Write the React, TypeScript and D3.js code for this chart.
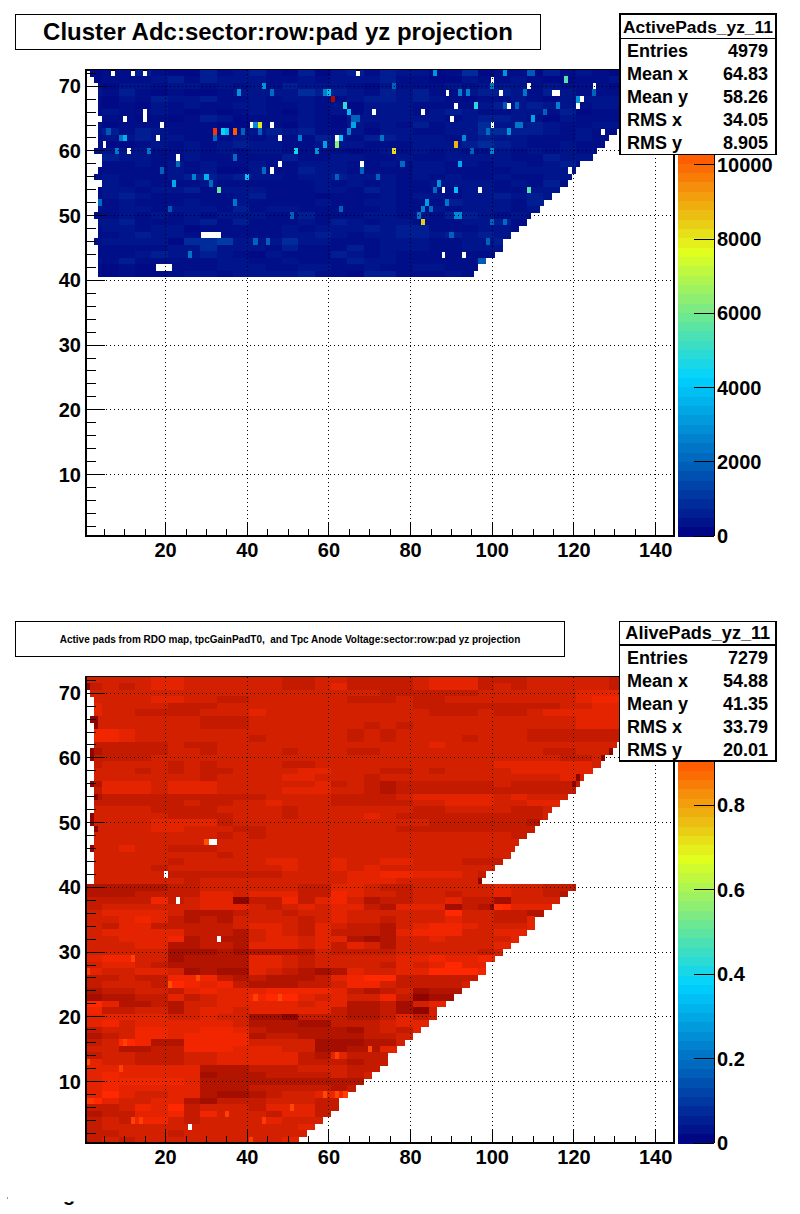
import React from "react";
import * as d3 from "d3";

const FONT = "'Liberation Sans', Arial, sans-serif";

// ---- data: each digit covers 4 pads (pads 1-4, 5-8, ...). Rows listed from 72 down.
const activeRows = [
  "233532253453252453544236233253432322", "233345354443343444533224334322334422",
  "324434434343544432433343444343332232", "435323223444465543545334554354333243",
  "324354453343443345545432334324444444", "323243433443343424443333454544344233",
  "343343232343243424443454334435233343", "333232354233343244444434554324333444",
  "423333332243243243435344644543344432", "453543331345453342443344665543433332",
  "344544333434335435544434544333433332", "322343434544334443334445654334332200",
  "344433434344333323434343343434333200", "554433433333533443343344443354432000",
  "333434343343344433434434344345330000", "333334342243354433334433334444350000",
  "343334554544344544434343343344440000", "343433343333334343433444434353300000",
  "344344534443334435433334433444000000", "345433333453332333434434454544000000",
  "534333433433334334433354443550000000", "434434443534433333433434443440000000",
  "334343434443353334434355434300000000", "445333453533343543443334453440000000",
  "344344233333434445455333443430000000", "334544323333445434455454545300000000",
  "344442667444644333444334454300000000", "333334464443533353444334444000000000",
  "333454454324333543433333333000000000", "435333334433433354433333334000000000",
  "323223334443344334334433330000000000", "323223443444453325533343350000000000",
];
const activeRowNumbers = d3.range(72, 40, -1);
const activeFirstPad = [2, 3, 4, 4, 4, 4, 4, 5, 4, 4, 4, 4, 3, 5, 5, 4, 3, 5, 4, 4, 4, 4, 3, 4, 4, 4, 3, 4, 4, 4, 4, 4];
const activeLastPad = [144, 144, 142, 140, 138, 136, 134, 134, 132, 130, 128, 127, 125, 124, 121, 120, 119, 118, 116, 114, 112, 111, 109, 108, 106, 104, 102, 102, 100, 98, 96, 95];
const activeLevels = [150, 150, 200, 280, 400, 620, 900, 1200];
// row, pad, adc (0 = empty pad)
const activeSpecial: number[][] = [
  [72,7,0],[72,12,0],[72,15,0],[72,67,0],[70,44,3000],[69,38,3000],[69,60,3800],[69,59,2600],[69,46,2200],
  [68,61,12200],[67,64,5000],[66,65,3800],[66,15,0],[66,71,0],[65,15,0],[65,10,0],[65,66,2000],[65,67,2000],
  [64,19,0],[64,41,0],[64,42,2800],[64,43,8000],[64,46,0],[64,66,3400],
  [63,32,10800],[63,34,4400],[63,35,3700],[63,37,10200],[63,39,2000],[63,43,2000],[63,65,2600],[63,6,1800],
  [62,10,3600],[62,9,2400],[62,18,0],[62,32,2200],[62,48,0],[62,53,2600],[62,62,0],[62,63,4000],
  [61,5,0],[61,62,6400],[61,59,3300],[60,8,2500],[60,11,0],[60,16,2400],[60,52,4600],[60,57,3000],
  [59,23,0],[59,37,2200],[58,23,2200],[58,48,0],[58,68,0],[57,46,0],[57,44,2200],[57,19,2000],[57,68,2000],
  [56,27,2600],[56,30,3600],[56,40,3900],[56,72,2200],[56,62,2000],[55,22,3500],[55,31,2200],[54,33,5800],
  [52,4,2200],[52,37,2400],[51,21,1800],[51,63,2000],[50,51,2000],
  [47,29,0],[47,30,0],[47,31,0],[47,32,0],[47,33,0],[46,42,2000],[46,45,2000],[44,26,2400],
  [42,18,0],[42,19,0],[42,20,0],[42,21,0],
  [72,86,3000],[72,103,3000],[72,109,1800],[72,110,1800],[71,118,5500],[71,100,0],[70,76,2000],[70,100,2400],[70,109,0],[70,125,0],
  [69,89,0],[69,92,2600],[69,94,2600],[69,102,0],[69,108,2400],[69,115,0],[69,116,0],[69,125,2000],
  [68,121,3000],[68,122,0],[67,91,0],[67,96,4800],[67,104,0],[67,103,1800],[67,106,2000],[67,116,2600],[67,121,0],
  [66,83,0],[66,113,2000],[65,90,0],[65,110,3300],[64,100,0],[64,107,2400],[64,106,2400],[63,127,0],[63,104,3000],[63,99,2200],
  [62,73,2400],[62,93,2800],[61,91,8800],[60,76,8200],[60,100,2600],[60,95,2000],[58,92,3500],[58,78,2200],[57,119,0],
  [56,72,2000],[55,87,3000],[54,88,0],[54,91,3900],[54,97,0],[54,109,5600],[54,86,2200],[52,84,3200],[52,89,2400],
  [51,83,2600],[51,85,2200],[50,82,2400],[50,91,2800],[50,92,2800],[49,83,8500],[49,103,2200],[49,100,2000],[47,90,2000],[46,99,2000],
  [44,88,0],[44,93,0],[43,97,1800],[43,98,1800],
];

const aliveRows = [
  "444433444444554455554333555444445", "545433444444554355554333545444445",
  "444444444444444444555555444444333", "444433445544444455545544444444322",
  "344445554444444444445555555554433", "344555544434444444444555455433333",
  "444444455544444444444444444444333", "444444455544444445454444444444333",
  "223444444444444454544444444555555", "223444444454444454544445444555555",
  "555554554444444444444344444444444", "655554454444544455444444444455445",
  "555544444444444444444444444445544", "544445454444554444444444433333344",
  "444545455444433444554544443333333", "444444454444334445444444444443433",
  "633343334444443545655555545555",    "533343334444333445655555555555",
  "655555555554444555543333343440",    "555555455443444555554433344333",
  "444455554444544444445544445500",    "444445555444544443455555555540",
  "444433335444444444444555555600",    "444433444554444444455555555500",
  "444444445454444444444444445000",    "444444444444444444444444444000",
  "443445554444444444444444444500",    "444444445444444444444444440000",
  "444445444443344344334445550000",    "444454444444344343444444440000",
  "444445555555444433223334500000",    "444444544444444433344444600000",
  // row 40 and down
  "666665544444455334554444434455", "666555533433355234454454434456",
  "55552543385525324655443557444",  "54444443334543433563337561333",
  "4333346665445443444444144556",   "4432356564444543445444344553",
  "4533555554334534556432234443",   "433333555643453555632224433",
  "443332656643343367644344443",    "44433665563334353464444443",
  "44444777676666455554444454",     "3224476666334544444332332",
  "4334566666334544445343133",      "3443347677345676344331112",
  "554552225656665321155555",       "544451232566655422455554",
  "65544532333222235654766",        "76655354332113434425877",
  "1366564433333433665743",         "2554464334333335665784",
  "3333344344778555665354",         "324333333466677555433",
  "5442233223566666754533",         "654223222265566665543",
  "541266222244447776643",          "44665522233344776633",
  "54455544333335635554",           "3445554433333555655",
  "333333366655544455",             "323333376665555454",
  "322222366666666665",             "323333366655555650",
  "313443367765443200",             "134433675554445500",
  "554231544453335500",             "655332524445335000",
  "545224544443444000",             "544444444444434000",
  "554445444444440000",             "545444444444300000",
];
const aliveRowNumbers = d3.range(72, 72 - aliveRows.length, -1);
const aliveLastPad = [144, 144, 144, 143, 142, 140, 138, 136, 134, 132, 130, 129, 127, 126, 124, 122, 121, 120, 118, 116, 114, 113, 111, 110, 108, 106, 105, 104, 102, 100, 98, 97,
  120, 118, 116, 114, 112, 110, 110, 108, 106, 104, 102, 100, 98, 98, 96, 94, 92, 90, 88, 86, 86, 84, 82, 80, 78, 76, 74, 74, 72, 70, 68, 66, 64, 62, 62, 60, 58, 56, 54, 52];
const aliveFirstPad = [1, 1, 2, 3, 3, 3, 2, 3, 3, 3, 3, 2, 2, 3, 3, 3, 2, 3, 3, 3, 3, 2, 2, 3, 3, 3, 2, 3, 3, 3, 3, 3];
// level digit -> relative gain
const aliveLevels = [0.905, 0.96, 0.98, 1.0, 1.026, 1.04, 1.055, 1.07, 1.09];
const aliveSpecial: number[][] = [
  [47,31,0],[47,32,0],[47,30,0.91],[42,20,0],[38,23,0],[32,33,0],[3,26,0],
  [71,1,1.09],[66,2,1.09],[66,3,1.09],[65,3,1.09],[61,2,1.09],[60,2,1.09],[56,2,1.09],[54,3,1.09],[51,2,1.09],[50,2,1.09],[49,3,1.09],[46,2,1.09],
  [16,10,0.93],[29,12,0.93],[25,21,0.91],[26,28,0.92],[23,42,0.93],[23,48,0.92],[12,9,0.93],[6,51,0.92],[8,59,0.92],[8,62,0.92],[8,64,0.93],
  [14,62,0.93],[15,70,0.92],[13,1,0.91],[27,1,0.93],[4,12,0.93],[4,14,0.93],[4,44,0.94],[5,35,0.93],[1,41,0.93],[7,1,0.94],[7,2,0.94],
  [41,97,1.09],[56,120,1.09],[57,121,1.09],[61,129,1.09],[60,127,1.09],[37,100,1.09],[37,101,0.95],[37,102,0.95],
];

const xTicks = [20, 40, 60, 80, 100, 120, 140];
const yTicks = [10, 20, 30, 40, 50, 60, 70];
const xMinor = d3.range(5, 145, 5);
const yMinor = d3.range(2, 73, 2);
const activeBarTicks = [0, 2000, 4000, 6000, 8000, 10000];
const aliveBarTicks = [0, 0.2, 0.4, 0.6, 0.8];
const activeStats = [["Entries", "4979"], ["Mean x", "64.83"], ["Mean y", "58.26"], ["RMS x", "34.05"], ["RMS y", "8.905"]];
const aliveStats = [["Entries", "7279"], ["Mean x", "54.88"], ["Mean y", "41.35"], ["RMS x", "33.79"], ["RMS y", "20.01"]];

// palette
const palette = d3
  .scaleLinear<string>()
  .domain([0, 0.34, 0.61, 0.82, 0.87, 0.93, 1])
  .range(["rgb(0,0,128)", "rgb(0,210,255)", "rgb(225,255,30)", "rgb(255,85,0)", "rgb(255,40,0)", "rgb(210,32,0)", "rgb(128,0,0)"])
  .clamp(true);

type Cell = { row: number; pad: number; v: number };

function buildCells(rows: string[], rowNums: number[], first: (i: number) => number, last: number[], val: (d: number) => number, special: number[][]): Cell[] {
  const m = new Map<string, number>();
  rows.forEach((s, i) => {
    for (let pad = first(i); pad <= last[i]; pad++) {
      const idx = Math.min(Math.floor((pad - 1) / 4), s.length - 1);
      m.set(rowNums[i] + ":" + pad, val(+s[idx]));
    }
  });
  special.forEach(([r, p, v]) => {
    const k = r + ":" + p;
    if (v === 0) m.delete(k);
    else m.set(k, v);
  });
  return Array.from(m, ([k, v]) => {
    const [row, pad] = k.split(":").map(Number);
    return { row, pad, v };
  });
}

type PanelProps = {
  top: number; bottom: number; vmax: number; cells: Cell[];
  barTicks: number[]; barFmt: (v: number) => string;
};

function Panel({ top, bottom, vmax, cells, barTicks, barFmt }: PanelProps) {
  const L = 86, R = 674;
  const x = d3.scaleLinear().domain([0.5, 144.5]).range([L, R]);
  const y = d3.scaleLinear().domain([0.5, 72.5]).range([bottom, top]);
  const yBar = d3.scaleLinear().domain([0, vmax]).range([bottom, top]);
  const bins = d3.range(50);
  return (
    <g>
      <rect x={L} y={top} width={R - L} height={bottom - top} fill="none" stroke="#000" strokeWidth={1.4} shapeRendering="crispEdges" />
      <g shapeRendering="crispEdges">
        {cells.map((c) => (
          <rect key={c.row + "_" + c.pad} x={x(c.pad - 0.5)} y={y(c.row + 0.5)}
            width={x(c.pad + 0.5) - x(c.pad - 0.5) + 0.3} height={y(c.row - 0.5) - y(c.row + 0.5) + 0.3}
            fill={palette(c.v / vmax)} />
        ))}
      </g>
      <g stroke="#000" strokeWidth={1} strokeDasharray="1 3" shapeRendering="crispEdges">
        {xTicks.map((t) => <line key={t} x1={x(t)} x2={x(t)} y1={top} y2={bottom} />)}
        {yTicks.map((t) => <line key={t} x1={L} x2={R} y1={y(t)} y2={y(t)} />)}
      </g>
      <g stroke="#000" strokeWidth={1} shapeRendering="crispEdges">
        {xMinor.map((t) => <line key={t} x1={x(t)} x2={x(t)} y1={bottom} y2={bottom - (t % 20 === 0 ? 13 : 7)} />)}
        {yMinor.map((t) => <line key={t} x1={L} x2={L + (t % 10 === 0 ? 19 : 10)} y1={y(t)} y2={y(t)} />)}
        <line x1={L} x2={L} y1={top} y2={bottom} strokeWidth={1.4} />
        <line x1={L} x2={R} y1={bottom} y2={bottom} strokeWidth={1.4} />
      </g>
      <g fontFamily={FONT} fontWeight="bold" fontSize={20} fill="#000">
        {xTicks.map((t) => <text key={t} x={x(t)} y={bottom + 21} textAnchor="middle">{t}</text>)}
        {yTicks.map((t) => <text key={t} x={L - 5} y={y(t) + 7} textAnchor="end">{t}</text>)}
      </g>
      <g shapeRendering="crispEdges">
        {bins.map((b) => (
          <rect key={b} x={678} width={36} y={yBar(((b + 1) * vmax) / 50)}
            height={yBar((b * vmax) / 50) - yBar(((b + 1) * vmax) / 50) + 0.5}
            fill={palette((b + 0.5) / 50)} />
        ))}
        <line x1={714} x2={714} y1={top} y2={bottom} stroke="#000" />
        {barTicks.map((t) => <line key={t} x1={694} x2={714} y1={yBar(t)} y2={yBar(t)} stroke="#000" />)}
      </g>
      <g fontFamily={FONT} fontWeight="bold" fontSize={20} fill="#000">
        {barTicks.map((t) => <text key={t} x={717} y={yBar(t) + 7}>{barFmt(t)}</text>)}
      </g>
    </g>
  );
}

function Stats({ x0, y0, y1, headY, title, titleSize, rows, firstRow }: { x0: number; y0: number; y1: number; headY: number; title: string; titleSize: number; rows: string[][]; firstRow: number }) {
  return (
    <g fontFamily={FONT} fontWeight="bold" fill="#000">
      <rect x={x0} y={y0} width={776 - x0} height={y1 - y0} fill="#fff" stroke="#000" strokeWidth={1.2} shapeRendering="crispEdges" />
      <line x1={x0} x2={776} y1={headY} y2={headY} stroke="#000" strokeWidth={1.2} shapeRendering="crispEdges" />
      <text x={(x0 + 776) / 2} y={headY - 6} textAnchor="middle" fontSize={titleSize}>{title}</text>
      {rows.map((r, i) => (
        <g key={r[0]} fontSize={18}>
          <text x={627} y={firstRow + i * 23}>{r[0]}</text>
          <text x={768} y={firstRow + i * 23} textAnchor="end">{r[1]}</text>
        </g>
      ))}
    </g>
  );
}

export default function App() {
  const activeCells = buildCells(activeRows, activeRowNumbers, (i) => activeFirstPad[i], activeLastPad, (d) => activeLevels[d], activeSpecial);
  const aliveCells = buildCells(aliveRows, aliveRowNumbers, (i) => (i < aliveFirstPad.length ? aliveFirstPad[i] : 1), aliveLastPad, (d) => aliveLevels[d === 0 ? 4 : d], aliveSpecial);
  return (
    <svg width={800} height={1214} style={{ position: "absolute", left: 0, top: 0, display: "block", background: "#fff" }}>
      <Panel top={70} bottom={536} vmax={12560} cells={activeCells} barTicks={activeBarTicks} barFmt={(v) => String(v)} />
      <Panel top={677} bottom={1143} vmax={1.103} cells={aliveCells} barTicks={aliveBarTicks} barFmt={(v) => (v === 0 ? "0" : v.toFixed(1))} />

      <rect x={15.5} y={14.5} width={525} height={35} fill="#fff" stroke="#000" strokeWidth={1.2} shapeRendering="crispEdges" />
      <text x={278} y={40} textAnchor="middle" fontFamily={FONT} fontWeight="bold" fontSize={24}>Cluster Adc:sector:row:pad yz projection</text>
      <rect x={15.5} y={621.5} width={549} height={35} fill="#fff" stroke="#000" strokeWidth={1.2} shapeRendering="crispEdges" />
      <text x={290} y={643} textAnchor="middle" fontFamily={FONT} fontWeight="bold" fontSize={10} style={{ whiteSpace: "pre" }}>Active pads from RDO map, tpcGainPadT0,  and Tpc Anode Voltage:sector:row:pad yz projection</text>

      <Stats x0={620} y0={14} y1={154.5} headY={38.5} title="ActivePads_yz_11" titleSize={17.4} rows={activeStats} firstRow={57} />
      <Stats x0={619.5} y0={621.5} y1={761} headY={645} title="AlivePads_yz_11" titleSize={18.1} rows={aliveStats} firstRow={664} />

      <defs>
        <clipPath id="stray"><rect x={55} y={1201.5} width={30} height={10} /></clipPath>
      </defs>
      <text x={63} y={1201} clipPath="url(#stray)" fontFamily={FONT} fontWeight="bold" fontSize={20}>g</text>
      <rect x={7} y={1197} width={1} height={2} fill="#999" />
    </svg>
  );
}
